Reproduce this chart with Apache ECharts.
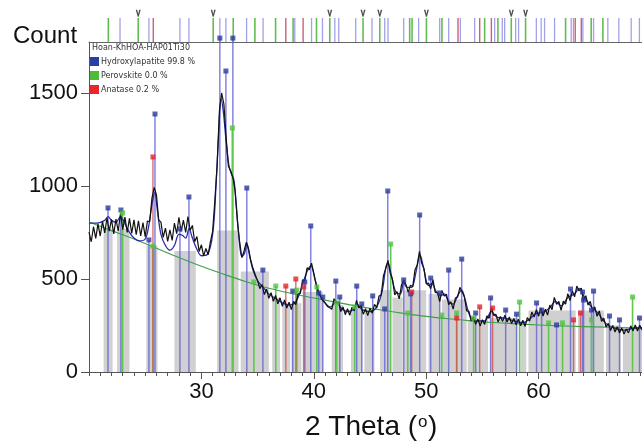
<!DOCTYPE html>
<html>
<head>
<meta charset="utf-8">
<script src="https://cdn.jsdelivr.net/npm/echarts@6/dist/echarts.min.js"></script>
<style>
html, body { margin: 0; padding: 0; background: #fff; }
#chart { width: 642px; height: 444px; }
</style>
</head>
<body>
<div id="chart"></div>
<script>
// Scan settings of the measured pattern (2θ start and step, degrees)
const scanStart = 20.0;
const scanStep = 0.2;

// Measured counts, one per step
const observedCounts = [
  752, 700, 781, 718, 796, 731, 810, 748, 828, 757,
  820, 742, 822, 758, 852, 765, 833, 750, 826, 745,
  818, 738, 812, 731, 803, 728, 812, 808, 935, 992,
  952, 818, 806, 724, 774, 702, 764, 708, 800, 744,
  832, 756, 817, 750, 836, 762, 788, 700, 728, 648,
  684, 624, 664, 630, 700, 756, 925, 1112, 1402, 1500,
  1440, 1262, 1108, 1082, 1046, 972, 812, 700, 615, 652,
  698, 660, 598, 556, 522, 490, 448, 470, 416, 445,
  396, 426, 380, 412, 366, 399, 353, 387, 344, 375,
  335, 380, 362, 420, 422, 496, 488, 560, 550, 585,
  530, 472, 428, 406, 384, 372, 354, 346, 337, 394,
  370, 378, 325, 350, 308, 340, 305, 348, 328, 385,
  344, 358, 311, 340, 303, 343, 316, 364, 345, 408,
  414, 518, 556, 600, 530, 498, 414, 432, 393, 468,
  496, 470, 428, 467, 458, 548, 575, 648, 585, 557,
  473, 478, 448, 497, 428, 428, 378, 438, 408, 418,
  362, 377, 338, 398, 404, 455, 430, 405, 328, 327,
  274, 297, 256, 285, 247, 281, 256, 302, 289, 346,
  304, 311, 269, 298, 272, 306, 269, 296, 260, 288,
  254, 284, 249, 278, 245, 292, 273, 322, 295, 335,
  300, 345, 301, 337, 306, 360, 335, 401, 364, 380,
  331, 381, 365, 421, 384, 437, 404, 462, 436, 451,
  385, 410, 360, 380, 326, 350, 299, 328, 272, 290,
  243, 261, 223, 250, 215, 243, 210, 237, 204, 231,
  210, 248, 221, 253, 220, 251, 226
];

// Calculated profile [2θ, counts]
const calcProfile = [
  [20, 800], [20.5, 800], [21, 805], [21.4, 815], [21.7, 835], [22.0, 815], [22.4, 805],
  [22.8, 835], [23.1, 810], [23.5, 760], [24, 720], [24.5, 705], [25, 715], [25.3, 780],
  [25.6, 900], [25.85, 965], [26.1, 860], [26.4, 740], [26.8, 680], [27.2, 655], [27.6, 680],
  [28.0, 740], [28.3, 735], [28.6, 720], [28.9, 770], [29.2, 720], [29.6, 660], [30.0, 625],
  [30.5, 630], [31.0, 740], [31.3, 1000], [31.55, 1300], [31.75, 1470], [31.95, 1400],
  [32.2, 1240], [32.45, 1110], [32.7, 1060], [32.9, 1030], [33.1, 900], [33.35, 720],
  [33.6, 620], [33.85, 640], [34.05, 690], [34.3, 620], [34.6, 545], [35.0, 490], [35.5, 455],
  [36.0, 420], [36.6, 395], [37.2, 372], [37.8, 360], [38.2, 365], [38.6, 400], [39.0, 470],
  [39.4, 540], [39.75, 570], [40.1, 500], [40.5, 420], [41.0, 372], [41.5, 350], [42.0, 380],
  [42.4, 345], [43.0, 325], [43.5, 335], [43.85, 365], [44.3, 335], [45.0, 325], [45.6, 350],
  [46.1, 440], [46.4, 560], [46.6, 585], [46.9, 520], [47.3, 430], [47.7, 420], [48.0, 480],
  [48.3, 455], [48.7, 455], [49.1, 540], [49.45, 630], [49.8, 550], [50.2, 465], [50.5, 475],
  [50.9, 430], [51.3, 410], [51.6, 420], [52.0, 380], [52.4, 365], [52.8, 410], [53.15, 440],
  [53.5, 380], [53.9, 300], [54.5, 275], [55.2, 275], [55.8, 325], [56.3, 295], [57.0, 290],
  [57.8, 275], [58.6, 265], [59.2, 285], [59.8, 315], [60.4, 320], [61.0, 345], [61.5, 380],
  [62.0, 355], [62.6, 400], [63.2, 420], [63.6, 450], [64.1, 400], [64.7, 350], [65.3, 315],
  [66.0, 260], [66.8, 235], [67.6, 225], [68.4, 235], [69.2, 238]
];

// Fitted background [2θ, counts]
const backgroundCurve = [
  [20, 806], [22, 760], [24, 715], [26, 665], [28, 615], [30, 568], [32, 525], [34, 485],
  [36, 450], [38, 422], [40, 398], [42, 375], [44, 353], [46, 333], [48, 315], [50, 299],
  [52, 286], [54, 275], [56, 266], [58, 259], [60, 253], [62, 248], [64, 244], [66, 241],
  [68, 238], [69.2, 237]
];

// Peak-region shading [2θ from, 2θ to, counts]
const peakBands = [
  [21.3, 22.1, 770], [22.5, 23.6, 770], [25.1, 26.1, 680], [27.6, 29.5, 650], [31.4, 33.3, 760],
  [33.5, 36.0, 540], [36.3, 37.0, 400], [37.2, 37.9, 370], [38.0, 38.9, 370], [39.0, 40.8, 430],
  [41.6, 42.6, 360], [43.3, 44.3, 340], [44.5, 45.4, 330], [45.9, 46.8, 440], [47.0, 47.9, 400],
  [48.0, 50.0, 440], [50.2, 51.2, 420], [51.4, 53.6, 390], [53.7, 55.5, 280], [55.7, 58.1, 290],
  [58.4, 58.9, 270], [59.1, 63.3, 330], [63.5, 65.8, 330], [66.0, 67.3, 250], [67.5, 69.2, 240]
];

// Fitted reflections per phase [2θ, counts]
const hapPeaks = [
  [21.69, 882], [22.84, 871], [25.33, 710], [25.87, 1387], [28.09, 769], [28.89, 941],
  [31.64, 1795], [32.18, 1618], [32.8, 1795], [34.04, 989], [35.47, 548], [38.13, 435],
  [39.2, 484], [39.73, 785], [40.44, 425], [40.8, 403], [41.96, 489], [42.31, 403],
  [43.82, 462], [44.27, 366], [45.24, 409], [46.31, 339], [46.58, 973], [48.0, 495],
  [48.62, 420], [49.42, 844], [50.4, 505], [51.2, 425], [52.0, 548], [53.16, 607],
  [54.4, 317], [55.73, 398], [57.07, 333], [58.04, 311], [59.82, 371], [60.27, 333],
  [61.6, 253], [62.84, 446], [63.91, 430], [64.0, 387], [64.71, 333], [64.89, 435],
  [66.31, 301], [67.2, 280], [68.98, 290]
];
const perovskitePeaks = [
  [22.99, 855], [25.69, 677], [32.75, 1312], [34.67, 484], [36.62, 462], [38.49, 440],
  [40.27, 457], [42.04, 371], [43.64, 350], [46.84, 688], [48.36, 317], [51.38, 306],
  [52.71, 317], [54.22, 290], [58.31, 376], [60.89, 264], [62.13, 264], [64.71, 280],
  [68.36, 403]
];
const anatasePeaks = [
  [25.69, 1156], [37.51, 462], [38.4, 500], [39.11, 457], [48.71, 430], [52.71, 290],
  [54.76, 350], [55.91, 344], [63.11, 280], [63.73, 317]
];

// Reference pattern positions (2θ) for the strip above the plot
const hapRefLines = [
  22.76, 25.33, 28.09, 28.89, 31.64, 32.18, 34.02, 35.49, 38.31, 39.8, 40.77, 41.87, 42.22,
  43.73, 45.18, 46.31, 46.6, 48.0, 49.33, 51.2, 52.0, 53.04, 54.31, 56.09, 56.77, 56.98,
  57.96, 58.22, 59.8, 60.23, 60.53, 61.42, 62.9, 63.1, 63.94, 64.89, 66.16, 67.14, 68.24, 68.97
];
const perovskiteRefLines = [
  21.72, 24.38, 31.05, 32.83, 34.76, 36.6, 38.16, 40.24, 41.42, 44.38, 45.87, 48.53, 48.74,
  50.02, 51.4, 55.2, 56.38, 57.57, 58.84, 62.4, 64.68, 65.72
];
const anataseRefLines = [25.72, 37.51, 39.05, 52.83, 54.76, 55.8, 63.26, 63.8];
const flaggedRefLines = [24.38, 31.05, 41.42, 44.38, 45.87, 50.02, 57.57, 58.84];

// Axis settings
const xMin = 20, xMax = 69.2, xMajorStep = 10;
const yMin = 0, yMax = 1774, yStep = 500;

const observedSeries = observedCounts.map((c, i) => [+(scanStart + i * scanStep).toFixed(2), c]);

const PHASE = {
  hap: { line: 'rgba(96,96,214,0.78)', mark: '#2c399e', ref: 'rgba(105,105,220,0.62)' },
  per: { line: '#5dc84b', mark: '#53c343', ref: 'rgba(70,178,50,0.85)' },
  ana: { line: 'rgba(214,84,84,0.85)', mark: '#e3232b', ref: 'rgba(188,40,78,0.75)' }
};

function stickRenderer(color, width) {
  return function (params, api) {
    const x = api.value(0);
    const p0 = api.coord([x, 0]);
    const p1 = api.coord([x, api.value(1)]);
    return {
      type: 'line',
      shape: { x1: p0[0], y1: p0[1], x2: p1[0], y2: p1[1] },
      style: { stroke: color, lineWidth: width }
    };
  };
}

function refRenderer(color, width) {
  return function (params, api) {
    const x = api.value(0);
    const p0 = api.coord([x, 0]);
    const p1 = api.coord([x, 1]);
    return {
      type: 'line',
      shape: { x1: p0[0], y1: p0[1], x2: p1[0], y2: p1[1] },
      style: { stroke: color, lineWidth: width }
    };
  };
}

function stickSeries(data, color, width) {
  return {
    type: 'custom', xAxisIndex: 0, yAxisIndex: 0, z: 3, silent: true,
    renderItem: stickRenderer(color, width), data: data, encode: { x: 0, y: 1 }
  };
}
function markerSeries(data, color) {
  return {
    type: 'scatter', xAxisIndex: 0, yAxisIndex: 0, z: 8, clip: false, silent: true,
    symbol: 'rect', symbolSize: 5, itemStyle: { color: color }, data: data
  };
}
function refSeries(list, color, width) {
  return {
    type: 'custom', xAxisIndex: 2, yAxisIndex: 1, z: 3, silent: true,
    renderItem: refRenderer(color, width), data: list.map(v => [v]), encode: { x: 0 }
  };
}

const textFont = '"Liberation Sans", Arial, sans-serif';
const legendFont = '"DejaVu Sans", sans-serif';

const chart = echarts.init(document.getElementById('chart'), null, { renderer: 'canvas' });

chart.setOption({
  animation: false,
  backgroundColor: '#ffffff',
  grid: [
    { left: 89, right: 0, top: 42, bottom: 72 },
    { left: 89, right: 0, top: 18, height: 24 }
  ],
  xAxis: [
    {
      gridIndex: 0, type: 'value', position: 'bottom', min: xMin, max: xMax, interval: xMajorStep,
      axisLine: { show: true, lineStyle: { color: '#555', width: 1 } },
      axisTick: { show: true, length: 7, lineStyle: { color: '#555' } },
      axisLabel: {
        show: true, margin: 9, fontSize: 22, color: '#111', fontFamily: textFont,
        showMinLabel: false, showMaxLabel: false, formatter: v => String(v)
      },
      splitLine: { show: false }
    },
    {
      gridIndex: 0, type: 'value', position: 'bottom', min: xMin, max: xMax, interval: 1,
      axisLine: { show: false },
      axisTick: { show: true, length: 4, lineStyle: { color: '#555' } },
      axisLabel: { show: false }, splitLine: { show: false }
    },
    {
      gridIndex: 1, type: 'value', position: 'bottom', min: xMin, max: xMax,
      axisLine: { show: true, lineStyle: { color: '#666', width: 1 } },
      axisTick: { show: false }, axisLabel: { show: false }, splitLine: { show: false }
    }
  ],
  yAxis: [
    {
      gridIndex: 0, type: 'value', min: yMin, max: yMax, interval: yStep,
      axisLine: { show: true, lineStyle: { color: '#555', width: 1 } },
      axisTick: { show: true, length: 8, lineStyle: { color: '#555' } },
      axisLabel: {
        show: true, margin: 11, fontSize: 22, color: '#111', fontFamily: textFont,
        showMaxLabel: false, formatter: v => String(v)
      },
      splitLine: { show: false }
    },
    {
      gridIndex: 1, type: 'value', min: 0, max: 1, show: false
    }
  ],
  graphic: [
    { type: 'text', left: 13, top: 24, style: { text: 'Count', fontSize: 24, fontFamily: textFont, fill: '#111' } },
    {
      type: 'group', left: 305, top: 413,
      children: [
        { type: 'text', x: 0, y: 0, style: { text: '2 Theta (', fontSize: 28, fontFamily: textFont, fill: '#111' } },
        { type: 'text', x: 113, y: 1, style: { text: 'o', fontSize: 17, fontFamily: textFont, fill: '#111' } },
        { type: 'text', x: 123, y: 0, style: { text: ')', fontSize: 28, fontFamily: textFont, fill: '#111' } }
      ]
    },
    {
      type: 'group', left: 90, top: 44, z: 20,
      children: [
        { type: 'text', x: 2, y: 0, style: { text: 'Hoan-KhHOA-HAP01Ti30', fontSize: 8, fontFamily: legendFont, fill: '#333' } },
        { type: 'rect', shape: { x: 0, y: 13, width: 9, height: 9 }, style: { fill: '#2b3ea3' } },
        { type: 'text', x: 11, y: 14, style: { text: 'Hydroxylapatite 99.8 %', fontSize: 8, fontFamily: legendFont, fill: '#333' } },
        { type: 'rect', shape: { x: 0, y: 27, width: 9, height: 9 }, style: { fill: '#4dbb3a' } },
        { type: 'text', x: 11, y: 28, style: { text: 'Perovskite 0.0 %', fontSize: 8, fontFamily: legendFont, fill: '#333' } },
        { type: 'rect', shape: { x: 0, y: 41, width: 9, height: 9 }, style: { fill: '#e8262b' } },
        { type: 'text', x: 11, y: 42, style: { text: 'Anatase 0.2 %', fontSize: 8, fontFamily: legendFont, fill: '#333' } }
      ]
    }
  ],
  series: [
    // shaded peak regions
    {
      type: 'custom', xAxisIndex: 0, yAxisIndex: 0, z: 1, silent: true,
      data: peakBands, encode: { x: [0, 1], y: 2 },
      renderItem: function (params, api) {
        const a = api.coord([api.value(0), 0]);
        const b = api.coord([api.value(1), api.value(2)]);
        return {
          type: 'rect',
          shape: { x: a[0], y: b[1], width: b[0] - a[0], height: a[1] - b[1] },
          style: { fill: '#d0d0d0' }
        };
      }
    },
    // reflection sticks
    stickSeries(hapPeaks, PHASE.hap.line, 1.5),
    stickSeries(perovskitePeaks, PHASE.per.line, 1.6),
    stickSeries(anatasePeaks, PHASE.ana.line, 1.4),
    // background
    {
      type: 'line', xAxisIndex: 0, yAxisIndex: 0, z: 4, silent: true, symbol: 'none', smooth: 0.4,
      data: backgroundCurve, lineStyle: { color: '#3f9f4a', width: 1.1 }
    },
    // calculated profile
    {
      type: 'line', xAxisIndex: 0, yAxisIndex: 0, z: 5, silent: true, symbol: 'none', smooth: 0.35,
      data: calcProfile, lineStyle: { color: '#2a2aa6', width: 1.3 }
    },
    // measured pattern
    {
      type: 'line', xAxisIndex: 0, yAxisIndex: 0, z: 6, silent: true, symbol: 'none',
      data: observedSeries, lineStyle: { color: '#111', width: 1.2 }
    },
    // stick tops
    markerSeries(hapPeaks, PHASE.hap.mark),
    markerSeries(perovskitePeaks, PHASE.per.mark),
    markerSeries(anatasePeaks, PHASE.ana.mark),
    // reference strip
    refSeries(hapRefLines, PHASE.hap.ref, 1.3),
    refSeries(perovskiteRefLines, PHASE.per.ref, 1.6),
    refSeries(anataseRefLines, PHASE.ana.ref, 1.4),
    {
      type: 'scatter', xAxisIndex: 2, yAxisIndex: 1, z: 9, clip: false, silent: true,
      symbol: 'path://M0,0 L3,0 L5,6 L7,0 L10,0 L6,10 L4,10 Z', symbolSize: [5, 7],
      itemStyle: { color: '#222' },
      data: flaggedRefLines.map(v => [v, 1.2])
    }
  ]
});
</script>
</body>
</html>
